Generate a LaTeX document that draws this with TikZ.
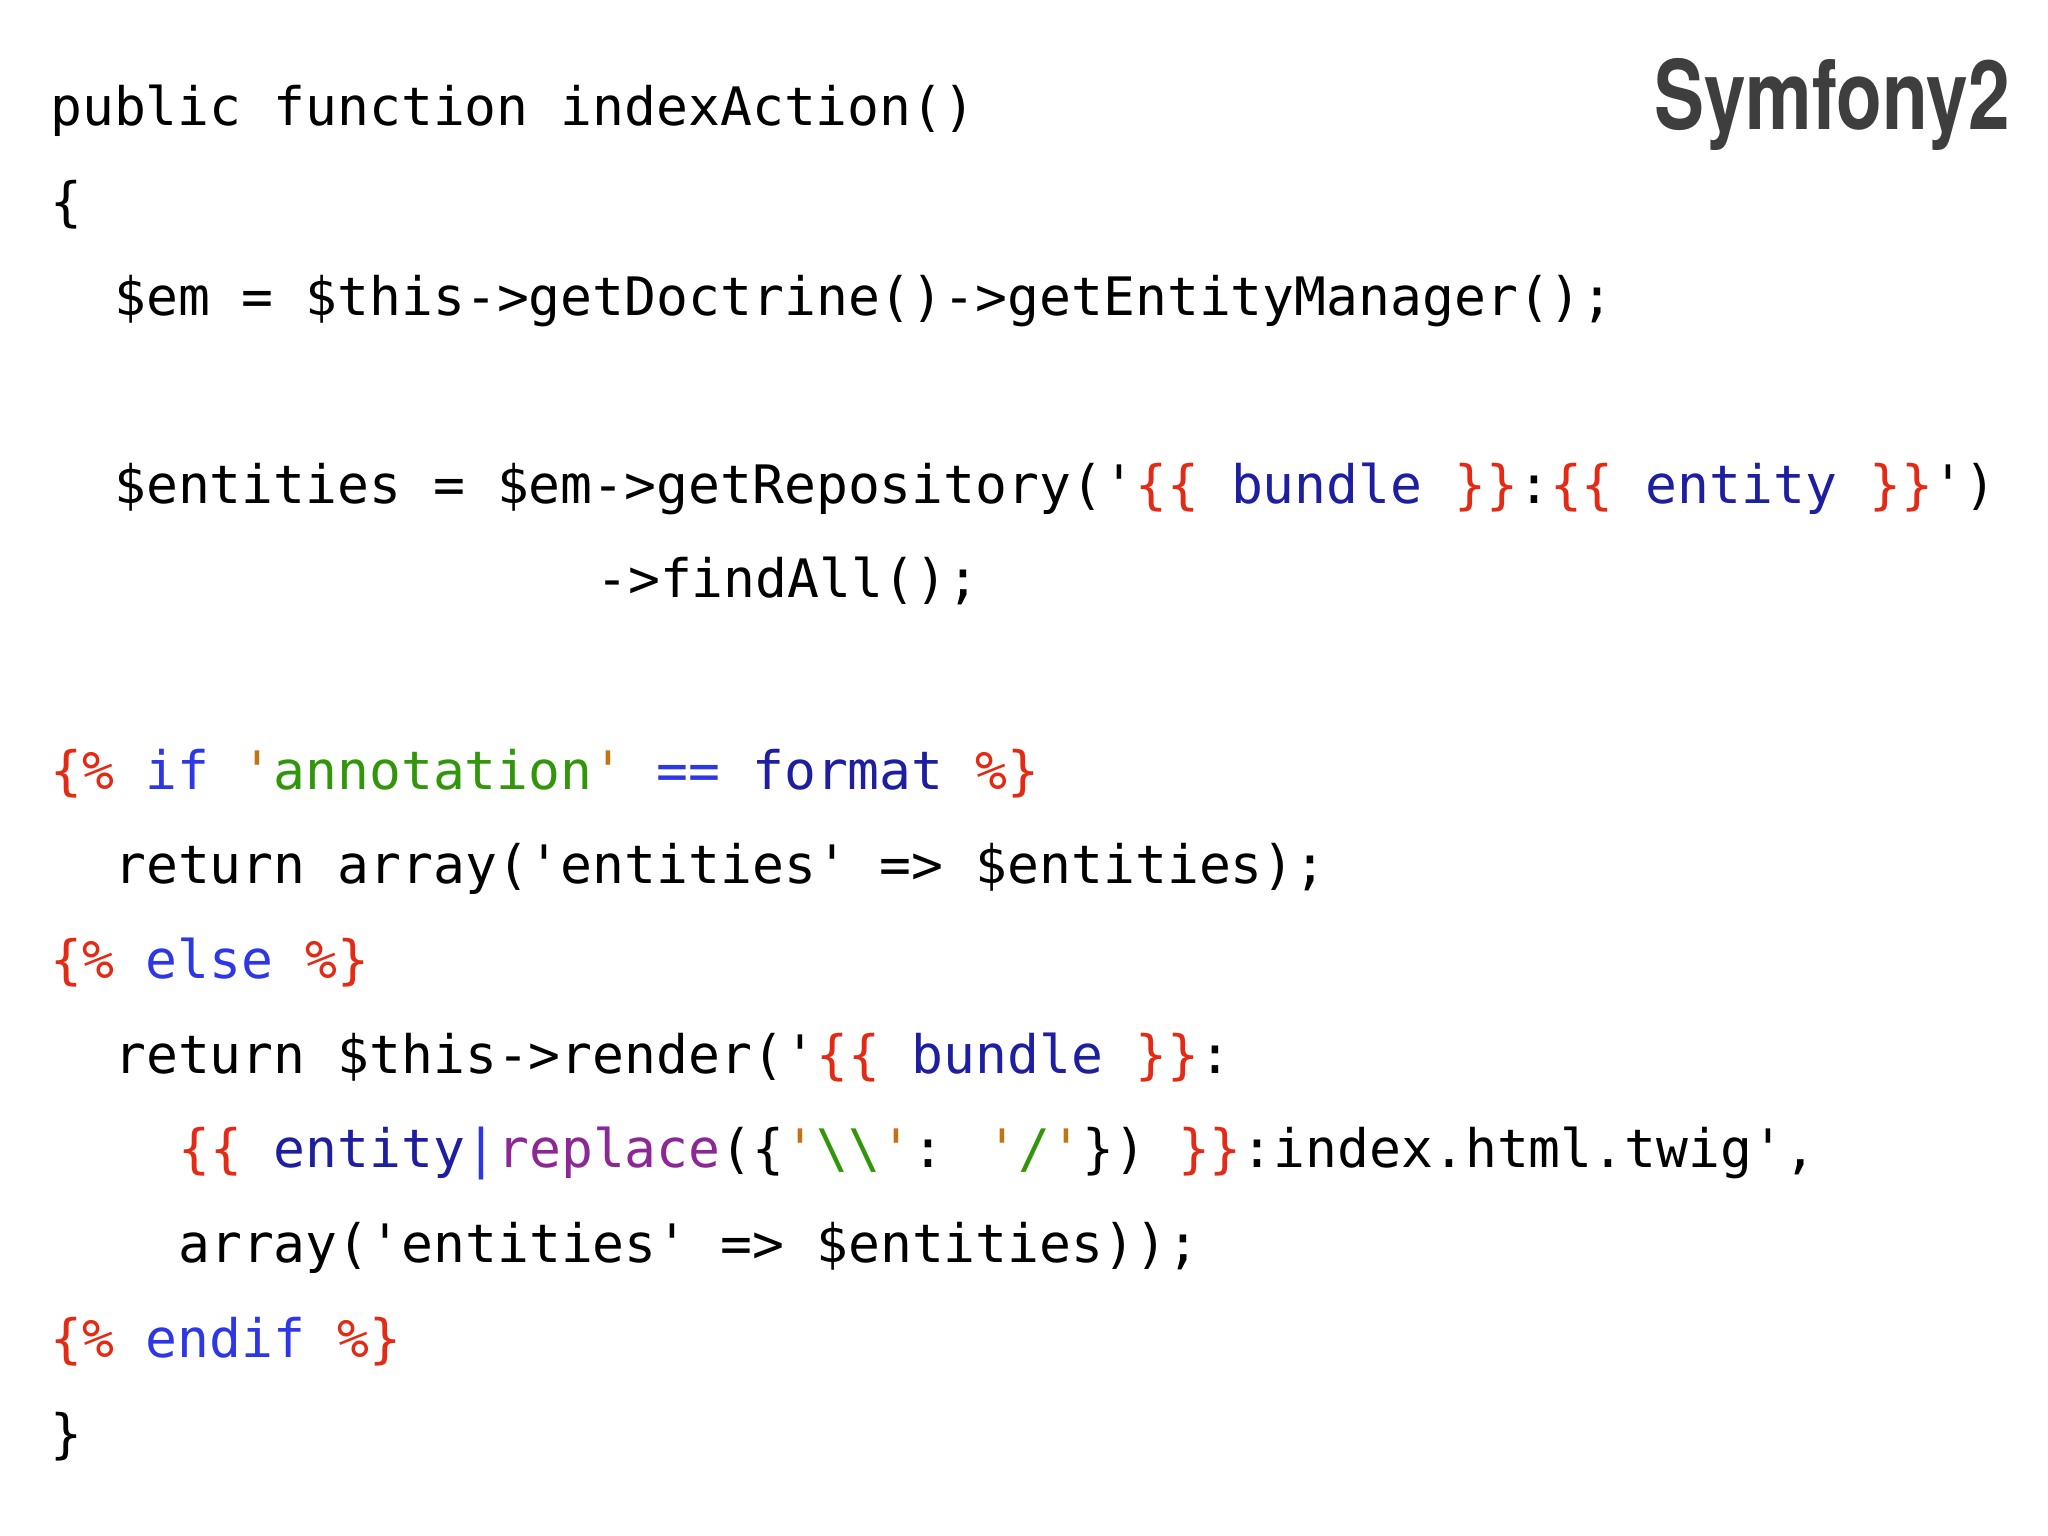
\documentclass[tikz,border=0pt]{standalone}
\usepackage{fontspec}
\newfontfamily\codefont{DejaVu Sans Mono}
\newfontfamily\titlefont{TeX Gyre Heros}
\definecolor{cred}{RGB}{228,42,20}
\definecolor{ckey}{RGB}{45,55,230}
\definecolor{cvar}{RGB}{30,30,160}
\definecolor{cgreen}{RGB}{50,150,10}
\definecolor{corange}{RGB}{195,115,20}
\definecolor{cpurple}{RGB}{140,40,150}
\definecolor{ctitle}{RGB}{62,62,62}
\newcommand{\cR}[1]{\textcolor{cred}{#1}}
\newcommand{\cK}[1]{\textcolor{ckey}{#1}}
\newcommand{\cV}[1]{\textcolor{cvar}{#1}}
\newcommand{\cG}[1]{\textcolor{cgreen}{#1}}
\newcommand{\cOr}[1]{\textcolor{corange}{#1}}
\newcommand{\cPu}[1]{\textcolor{cpurple}{#1}}
\tikzset{codeline/.style={anchor=base west,inner sep=0pt,font=\codefont\fontsize{53}{60}\selectfont}}
\begin{document}
\begin{tikzpicture}[x=1pt,y=1pt]
\fill[white] (0,0) rectangle (2048,-1536);
\useasboundingbox (0,0) rectangle (2048,-1536);
\node[anchor=base east,inner sep=0pt,text=ctitle,font=\titlefont\bfseries\fontsize{96}{100}\selectfont] (title) at (2010,-130) {\scalebox{0.78}[1]{Symfony2}};
\node[codeline] (l1) at (50,-126) {public function indexAction()};
\node[codeline] (l2) at (50,-220) {\{};
\node[codeline] (l3) at (114,-315) {\$em = \$this->getDoctrine()->getEntityManager();};
\node[codeline] (l4) at (114,-503) {\$entities = \$em->getRepository('\cR{\{\{} \cV{bundle} \cR{\}\}}:\cR{\{\{} \cV{entity} \cR{\}\}}')};
\node[codeline] (l5) at (596,-597) {->findAll();};
\node[codeline] (l6) at (50,-789) {\cR{\{\%} \cK{if} \cOr{'}\cG{annotation}\cOr{'} \cK{==} \cV{format} \cR{\%\}}};
\node[codeline] (l7) at (114,-883) {return array('entities' => \$entities);};
\node[codeline] (l8) at (50,-978) {\cR{\{\%} \cK{else} \cR{\%\}}};
\node[codeline] (l9) at (114,-1073) {return \$this->render('\cR{\{\{} \cV{bundle} \cR{\}\}}:};
\node[codeline] (l10) at (178,-1167) {\cR{\{\{} \cV{entity}\cK{|}\cPu{replace}(\{\cOr{'}\cG{\textbackslash\textbackslash}\cOr{'}: \cOr{'}\cG{/}\cOr{'}\}) \cR{\}\}}:index.html.twig',};
\node[codeline] (l11) at (178,-1262) {array('entities' => \$entities));};
\node[codeline] (l12) at (50,-1357) {\cR{\{\%} \cK{endif} \cR{\%\}}};
\node[codeline] (l13) at (50,-1452) {\}};
\end{tikzpicture}
\end{document}
